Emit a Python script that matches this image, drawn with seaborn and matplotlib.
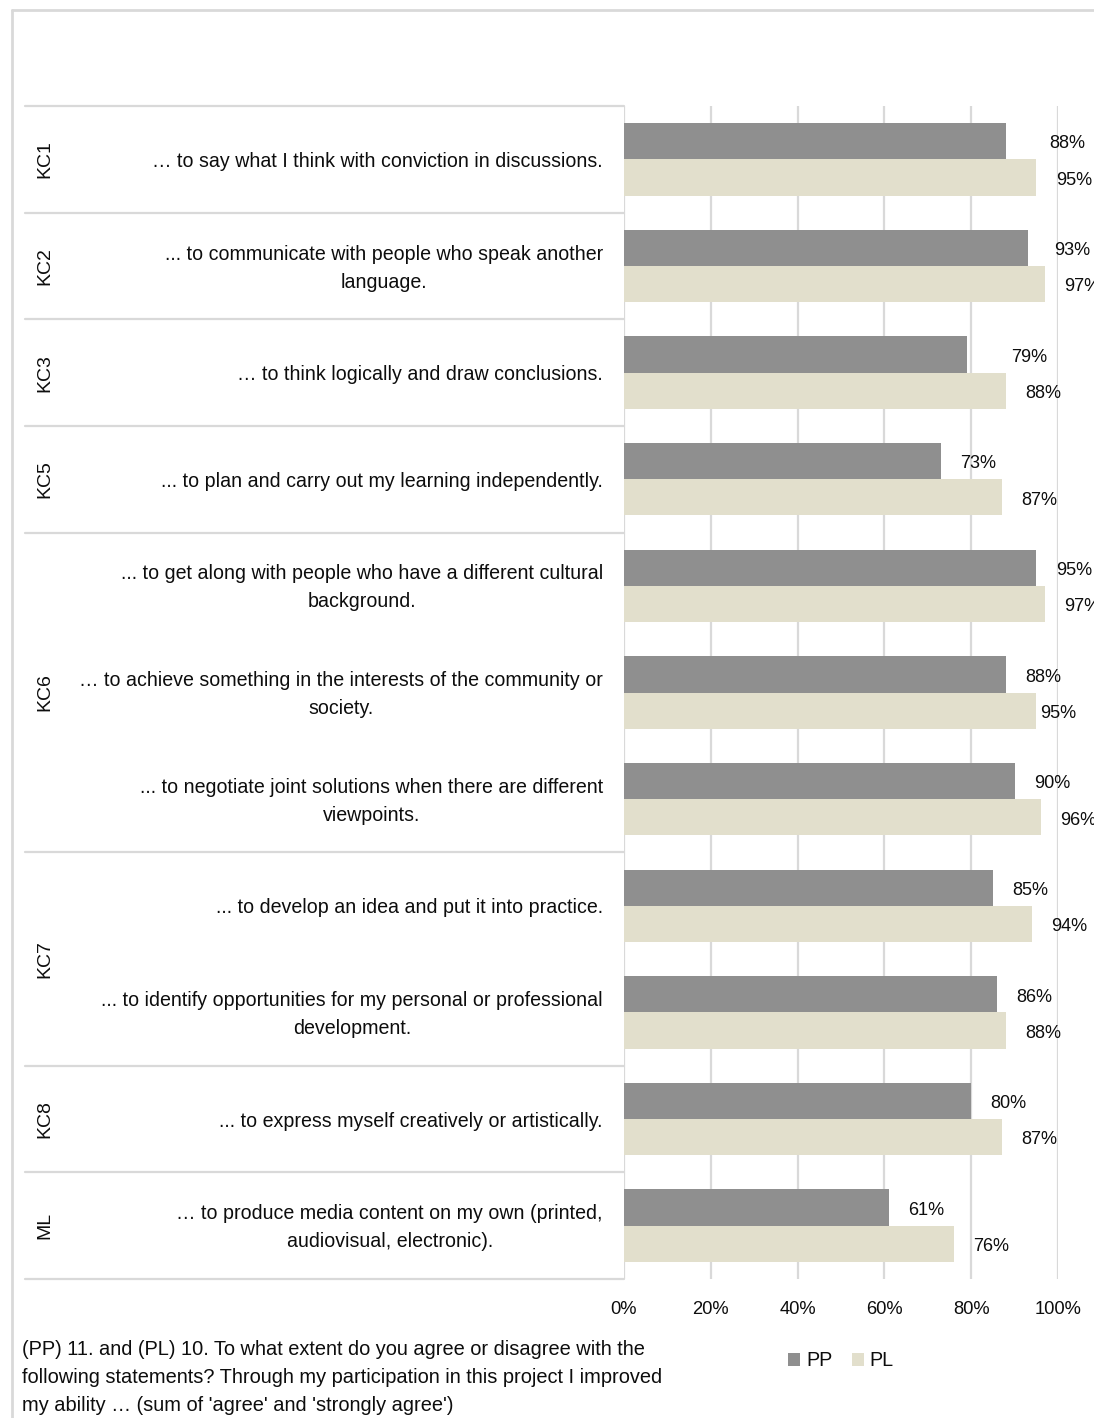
import numpy as np
import pandas as pd
import matplotlib
matplotlib.use("Agg")
import matplotlib.pyplot as plt
from matplotlib import font_manager
from matplotlib.lines import Line2D
from matplotlib.patches import Patch
import seaborn as sns

# ---- data -------------------------------------------------------------
groups = ["KC1", "KC2", "KC3", "KC5", "KC6", "KC6", "KC6", "KC7", "KC7", "KC8", "ML"]
items = [
    "\u2026 to say what I think with conviction in discussions.",
    "... to communicate with people who speak another\nlanguage.",
    "\u2026 to think logically and draw conclusions.",
    "... to plan and carry out my learning independently.",
    "... to get along with people who have a different cultural\nbackground.",
    "\u2026 to achieve something in the interests of the community or\nsociety.",
    "... to negotiate joint solutions when there are different\nviewpoints.",
    "... to develop an idea and put it into practice.",
    "... to identify opportunities for my personal or professional\ndevelopment.",
    "... to express myself creatively or artistically.",
    "\u2026 to produce media content on my own (printed,\naudiovisual, electronic).",
]
pp_share = [88, 93, 79, 73, 95, 88, 90, 85, 86, 80, 61]
pl_share = [95, 97, 88, 87, 97, 95, 96, 94, 88, 87, 76]
series_names = ["PP", "PL"]
x_ticks = [0, 20, 40, 60, 80, 100]
footnote = ("(PP) 11. and (PL) 10. To what extent do you agree or disagree with the\n"
            "following statements? Through my participation in this project I improved\n"
            "my ability \u2026 (sum of 'agree' and 'strongly agree')")

# ---- style ------------------------------------------------------------
sns.set_style("white")


def pick_font(names):
    for n in names:
        try:
            font_manager.findfont(n, fallback_to_default=False)
            return n
        except ValueError:
            pass
    return None


regular = pick_font(["Liberation Sans", "Arial"]) or "DejaVu Sans"
plt.rcParams["font.family"] = [regular, "DejaVu Sans"]

colors = {"PP": "#8f8f8f", "PL": "#e2dfcc"}
line_col = "#d9d9d9"
text_col = "#0d0d0d"

W, H = 1094, 1418
fig = plt.figure(figsize=(W / 100, H / 100), dpi=100)
x0, x1, y_top, y_bot = 624, 1058, 106, 1279
ax = fig.add_axes([x0 / W, 1 - y_bot / H, (x1 - x0) / W, (y_bot - y_top) / H])

df = pd.DataFrame({
    "item": items * 2,
    "series": ["PP"] * len(items) + ["PL"] * len(items),
    "share": pp_share + pl_share,
})

sns.barplot(data=df, x="share", y="item", hue="series", order=items,
            hue_order=series_names, palette=colors, saturation=1,
            width=0.68, orient="h", linewidth=0, legend=False, ax=ax)

ax.set_xlim(0, 100)
ax.set_ylim(len(items) - 0.5, -0.5)
ax.set_xticks(x_ticks)
ax.set_xticklabels([f"{t}%" for t in x_ticks])
ax.tick_params(axis="x", length=0, pad=16, labelsize=13.2, labelcolor=text_col)
ax.set_yticks([])
ax.set_xlabel("")
ax.set_ylabel("")
for s in ax.spines.values():
    s.set_visible(False)
ax.xaxis.grid(True, color=line_col, lw=1.6)
ax.set_axisbelow(True)

# value labels
label_nudge = {("PP", 0): 17, ("PP", 1): 5, ("PP", 2): 18, ("PL", 5): -11}
for name, cont, vals in zip(series_names, ax.containers, [pp_share, pl_share]):
    anns = ax.bar_label(cont, labels=[f"{v}%" for v in vals], padding=14,
                        fontsize=13.1, color=text_col, clip_on=False)
    for i, a in enumerate(anns):
        dx = label_nudge.get((name, i), 0)
        a.xyann = (a.xyann[0] + dx, a.xyann[1] - 2)

# label table to the left of the bars
ytr = ax.get_yaxis_transform()
px = lambda x: (x - x0) / (x1 - x0)
bounds = [-0.5] + [i - 0.5 for i in range(1, len(groups)) if groups[i] != groups[i - 1]] + [len(groups) - 0.5]
for b in bounds:
    ax.add_line(Line2D([px(25), 0], [b, b], transform=ytr, color=line_col,
                       lw=1.6, clip_on=False))

for i, txt in enumerate(items):
    ax.text(px(603), i + 0.02, txt, transform=ytr, ha="right", va="center",
            multialignment="center", fontsize=14.15, color=text_col,
            linespacing=1.6)

for g in dict.fromkeys(groups):
    idx = [i for i, gg in enumerate(groups) if gg == g]
    ax.text(px(45), np.mean(idx), g, transform=ytr, ha="center", va="center",
            rotation=90, fontsize=14, color=text_col)

# outer frame
fig.add_artist(Line2D([12 / W, 12 / W], [0, 1 - 10 / H], transform=fig.transFigure,
                      color=line_col, lw=2))
fig.add_artist(Line2D([12 / W, 1], [1 - 10 / H, 1 - 10 / H], transform=fig.transFigure,
                      color=line_col, lw=2))

# legend and note
handles = [Patch(facecolor=colors[s], edgecolor="none") for s in series_names]
fig.legend(handles, series_names, loc="center", bbox_to_anchor=(841 / W, 1 - 1361 / H),
           ncol=2, frameon=False, handlelength=0.6, handleheight=0.6,
           handletextpad=0.3, columnspacing=1.0, fontsize=14.2,
           labelcolor=text_col)

fig.text(22 / W, 1 - 1340 / H, footnote, ha="left", va="top", fontsize=14.4,
         color=text_col, linespacing=1.6)

fig.savefig("out.png", dpi=100)
